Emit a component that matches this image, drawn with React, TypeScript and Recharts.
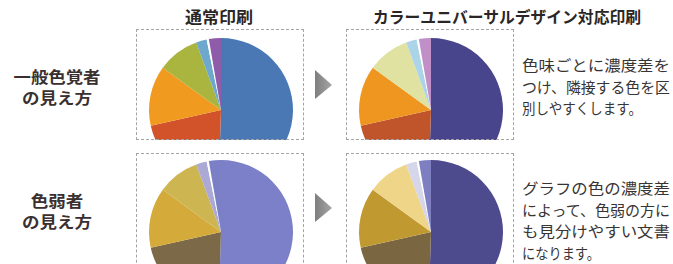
import { PieChart, Pie, Cell } from 'recharts';

// slice shares, clockwise from 12 o'clock
const SLICES = ['A', 'B', 'C', 'D', 'E', 'F', 'G'];
const SHARES = [50.5, 21, 13.5, 9.4, 2.4, 0.5, 2.7];

const NORMAL_COLORS = ['#4a78b4', '#d2522a', '#f09b1f', '#a9b53e', '#6ea8cc', '#ffffff', '#8e5ca8'];
const CUD_COLORS = ['#49458c', '#c0552b', '#ee961f', '#dfe2a0', '#abd4e8', '#ffffff', '#c18fc7'];
const WEAK_NORMAL_COLORS = ['#7b80c8', '#7c6948', '#d4aa3a', '#cdb551', '#aaaad4', '#ffffff', '#7b80c6'];
const WEAK_CUD_COLORS = ['#4e4a8e', '#7a6640', '#c09a30', '#efd587', '#d6d6ea', '#ffffff', '#7d7fc0'];

const COLUMN_TITLES = ['通常印刷', 'カラーユニバーサルデザイン対応印刷'];
const ROW_TITLES = [
  ['一般色覚者', 'の見え方'],
  ['色弱者', 'の見え方'],
];
const NOTES = [
  ['色味ごとに濃度差を', 'つけ、隣接する色を区', '別しやすくします。'],
  ['グラフの色の濃度差', 'によって、色弱の方に', 'も見分けやすい文書', 'になります。'],
];
// printed line widths in the scan
const NOTE_WIDTHS = [
  [148, 148, 120],
  [148, 148, 148, 78],
];

const data = SLICES.map((name, i) => ({ name, value: SHARES[i] }));

const FONT = '"Noto Sans CJK JP", "Noto Sans", sans-serif';

function PieBox({ left, top, cy, colors }: { left: number; top: number; cy: number; colors: string[] }) {
  return (
    <>
      <div style={{ position: 'absolute', left, top, width: 167, height: 111, overflow: 'hidden' }}>
        <PieChart width={167} height={240} margin={{ top: 0, right: 0, bottom: 0, left: 0 }}>
          <Pie
            data={data}
            dataKey="value"
            cx={85}
            cy={cy}
            outerRadius={72}
            startAngle={90}
            endAngle={-270}
            stroke="none"
            isAnimationActive={false}
          >
            {data.map((entry, index) => (
              <Cell key={`cell-${entry.name}`} fill={colors[index]} />
            ))}
          </Pie>
        </PieChart>
      </div>
      <div
        style={{
          position: 'absolute',
          left,
          top,
          width: 168,
          height: top > 100 ? 130 : 111,
          border: '1px dashed #a4a4a4',
          boxSizing: 'border-box',
          pointerEvents: 'none',
        }}
      />
    </>
  );
}

export default function App() {
  return (
    <div style={{ position: 'absolute', left: 0, top: 0, width: 673, height: 264, overflow: 'hidden', background: '#fff' }}>
      <svg width={673} height={264} style={{ position: 'absolute', left: 0, top: 0 }}>
        <defs>
          <linearGradient id="arrowFill" x1="0" y1="0" x2="1" y2="0">
            <stop offset="0%" stopColor="#7e7e7e" />
            <stop offset="100%" stopColor="#a6a6a6" />
          </linearGradient>
        </defs>
        <text x={219} y={23} fontFamily={FONT} fontSize={16} fontWeight={700} fill="#2b2626" textAnchor="middle" textLength={68} lengthAdjust="spacingAndGlyphs">
          {COLUMN_TITLES[0]}
        </text>
        <text x={373} y={23} fontFamily={FONT} fontSize={16} fontWeight={700} fill="#2b2626" textLength={268} lengthAdjust="spacingAndGlyphs">
          {COLUMN_TITLES[1]}
        </text>

        {ROW_TITLES.map((lines, r) =>
          lines.map((line, j) => (
            <text
              key={`${r}-${j}`}
              x={57}
              y={(r === 0 ? 82.5 : 206.5) + j * 21}
              fontFamily={FONT}
              fontSize={16}
              fontWeight={700}
              fill="#3a3030"
              textAnchor="middle"
              textLength={r === 0 && j === 0 ? 87 : line.length * 17.5}
              lengthAdjust="spacingAndGlyphs"
            >
              {line}
            </text>
          ))
        )}

        {NOTES.map((lines, r) =>
          lines.map((line, j) => (
            <text
              key={`n${r}-${j}`}
              x={522}
              y={(r === 0 ? 71 : 194) + j * 21.7}
              fontFamily={FONT}
              fontSize={15}
              fill="#383434"
              textLength={NOTE_WIDTHS[r][j]}
              lengthAdjust="spacingAndGlyphs"
            >
              {line}
            </text>
          ))
        )}

        <polygon points="315,70 332,85 315,99" fill="url(#arrowFill)" />
        <polygon points="315,193 332,208 315,222" fill="url(#arrowFill)" />
      </svg>

      <PieBox left={136} top={29} cy={81} colors={NORMAL_COLORS} />
      <PieBox left={346} top={29} cy={81} colors={CUD_COLORS} />
      <PieBox left={136} top={153} cy={79} colors={WEAK_NORMAL_COLORS} />
      <PieBox left={346} top={153} cy={79} colors={WEAK_CUD_COLORS} />
    </div>
  );
}
